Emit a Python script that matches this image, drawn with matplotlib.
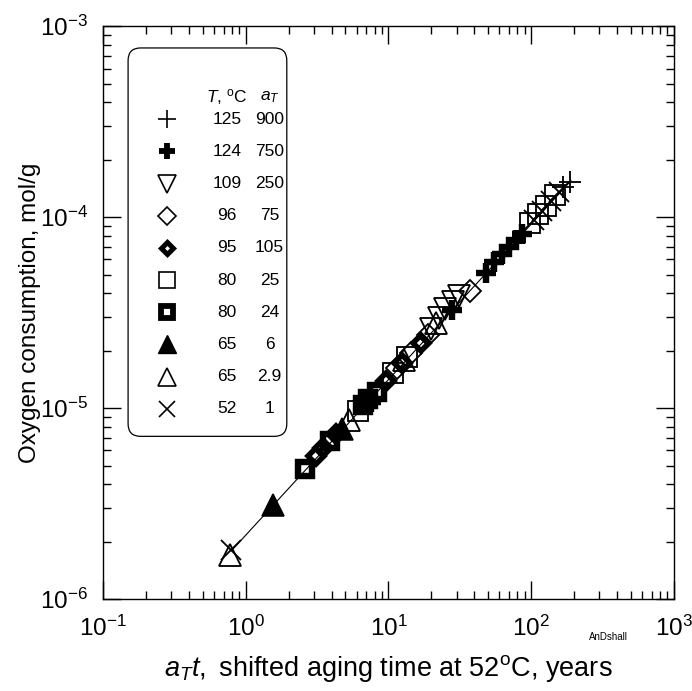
import numpy as np
import matplotlib.pyplot as plt
from matplotlib.patches import FancyBboxPatch

plt.rcParams['font.family'] = ['Liberation Sans', 'DejaVu Sans']
plt.rcParams['mathtext.fontset'] = 'custom'
plt.rcParams['mathtext.rm'] = 'Liberation Sans'
plt.rcParams['mathtext.it'] = 'Liberation Sans:italic'
plt.rcParams['axes.unicode_minus'] = False

# datos (años desplazados, mol/g)
x125 = [168, 186]
y125 = [1.44e-4, 1.52e-4]
x124 = [7.6, 28, 48, 55, 62, 70, 78, 86]
y124 = [1.08e-5, 3.25e-5, 5.1e-5, 5.8e-5, 6.4e-5, 7.0e-5, 7.6e-5, 8.2e-5]
x109 = [20, 22.5, 25, 28.5, 31]
y109 = [2.6e-5, 2.95e-5, 3.3e-5, 3.6e-5, 3.85e-5]
x96 = [11.5, 14.5, 19, 37]
y96 = [1.62e-5, 1.95e-5, 2.4e-5, 4.1e-5]
x95 = [3.1, 3.5, 4.3, 9.6, 12.5, 17]
y95 = [5.6e-6, 6.2e-6, 7.3e-6, 1.38e-5, 1.72e-5, 2.2e-5]
x80a = [6.1, 10.8, 13.5, 98, 112, 128, 148]
y80a = [9.7e-6, 1.52e-5, 1.85e-5, 9.3e-5, 1.04e-4, 1.15e-4, 1.3e-4]
x80b = [2.6, 3.9, 6.6, 7.2, 8.3]
y80b = [4.8e-6, 6.7e-6, 1.04e-5, 1.12e-5, 1.22e-5]
x65a = [1.56, 4.7]
y65a = [3.1e-6, 7.8e-6]
x65b = [0.78, 5.3, 12.8, 21.5]
y65b = [1.7e-6, 8.7e-6, 1.78e-5, 2.8e-5]
x52 = [0.79, 104, 120, 138, 158]
y52 = [1.8e-6, 9.7e-5, 1.08e-4, 1.21e-4, 1.36e-4]

fit_x = [0.8, 190]
fit_y = [1.8e-6, 1.55e-4]

leyenda_T = ['125', '124', '109', '96', '95', '80', '80', '65', '65', '52']
leyenda_aT = ['900', '750', '250', '75', '105', '25', '24', '6', '2.9', '1']

# estilos: marker, size, mew, facecolor
estilos = [
    ('+', 13, 1.2, 'none'),
    ('+', 12, 4.2, 'none'),
    ('v', 13, 1.2, 'none'),
    ('D', 9, 1.2, 'none'),
    ('D', 6.5, 3.6, 'none'),
    ('s', 12, 1.2, 'none'),
    ('s', 8.5, 4.2, 'none'),
    ('^', 13, 1.0, 'k'),
    ('^', 13, 1.2, 'none'),
    ('x', 12, 1.2, 'none'),
]
series = [(x125, y125), (x124, y124), (x109, y109), (x96, y96), (x95, y95),
          (x80a, y80a), (x80b, y80b), (x65a, y65a), (x65b, y65b), (x52, y52)]

fig = plt.figure(figsize=(6.92, 6.91), dpi=100)
ax = fig.add_axes([0.1488, 0.1331, 0.825, 0.829])

ax.plot(fit_x, fit_y, 'k-', lw=0.8, zorder=1)

escala = 1.2
for (xs, ys), (m, ms, mew, fc) in zip(series, estilos):
    ax.plot(xs, ys, ls='none', marker=m, ms=ms * escala, mew=mew * 1.1,
            mec='k', mfc=fc, zorder=2)

ax.set_xscale('log')
ax.set_yscale('log')
ax.set_xlim(1e-1, 1e3)
ax.set_ylim(1e-6, 1e-3)

ax.tick_params(which='both', direction='in', top=True, right=True, width=1)
ax.tick_params(which='major', length=13, labelsize=17.5)
ax.tick_params(axis='x', which='major', pad=12)
ax.tick_params(axis='y', which='major', pad=11)
ax.tick_params(which='minor', length=6)
for s in ax.spines.values():
    s.set_linewidth(1)

ax.set_xlabel(r'$\mathit{a}_{\mathit{T}}\mathit{t,}$ shifted aging time at 52$^{\mathrm{o}}$C, years',
              fontsize=19.5)
ax.set_ylabel('Oxygen consumption, mol/g', fontsize=17.5)
ax.xaxis.set_label_coords(0.5, -0.094)
ax.yaxis.set_label_coords(-0.108, 0.5)

ax.text(0.885, -0.066, 'AnDshall', transform=ax.transAxes, fontsize=7,
        ha='center', va='center')

# leyenda hecha a mano
caja = FancyBboxPatch((0.044, 0.284), 0.278, 0.678, transform=ax.transAxes,
                      boxstyle='round,pad=0,rounding_size=0.022',
                      fc='white', ec='k', lw=0.9, zorder=3)
ax.add_patch(caja)

def fy(py):
    return (599 - py) / 573.0

mx, tx, ax_col = 0.112, 0.217, 0.292
ax.text(tx, fy(97), r'$\mathit{T}$, $^{\mathrm{o}}$C', transform=ax.transAxes,
        fontsize=12.5, ha='center', va='center', zorder=4)
ax.text(ax_col, fy(97), r'$\mathit{a}_{\mathit{T}}$', transform=ax.transAxes,
        fontsize=12.5, ha='center', va='center', zorder=4)

for i, (m, ms, mew, fc) in enumerate(estilos):
    yy = fy(119 + 32.2 * i)
    ax.plot([mx], [yy], transform=ax.transAxes, ls='none', marker=m, ms=ms,
            mew=mew, mec='k', mfc=fc, zorder=4, clip_on=False)
    ax.text(tx, yy, leyenda_T[i], transform=ax.transAxes, fontsize=12.5,
            ha='center', va='center', zorder=4)
    ax.text(ax_col, yy, leyenda_aT[i], transform=ax.transAxes, fontsize=12.5,
            ha='center', va='center', zorder=4)

fig.savefig('out.png', dpi=100)
